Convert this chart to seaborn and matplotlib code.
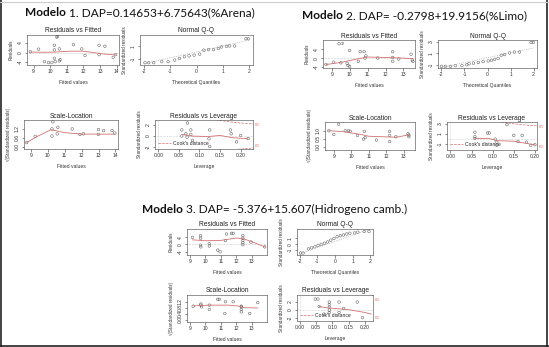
import matplotlib
matplotlib.use("Agg")
import matplotlib.pyplot as plt
import seaborn as sns
import numpy as np
from matplotlib.lines import Line2D

sns.set_style("white")
plt.rcParams['font.family'] = ['Liberation Sans', 'DejaVu Sans']

W, H = 549, 347

# ---------------- data ----------------
titles = ["Modelo", " 1. DAP=0.14653+6.75643(%Arena)",
          "Modelo", " 2. DAP= -0.2798+19.9156(%Limo)",
          "Modelo", " 3. DAP= -5.376+15.607(Hidrogeno camb.)"]

# Model 1
m1_rvf_x = [8.8, 9.3, 9.65, 9.9, 10.1, 10.3, 10.25, 10.25, 10.25, 10.4, 10.55, 10.55, 10.6, 11.4, 11.9, 12.1, 12.95, 12.95, 13.3, 13.8, 13.95]
m1_rvf_y = [0.3, 1.4, -3.8, -4.2, -4.2, -3.8, 3.0, 1.1, -2.4, 6.4, 1.5, -3.5, -3.0, 3.3, 1.5, -1.2, 3.0, -0.9, 2.6, -2.0, -0.9]
m1_rvf_sx = [8.8, 9.6, 10.3, 11.0, 11.9, 12.6, 13.2, 13.95]
m1_rvf_sy = [0.2, 0.1, 0.2, 0.5, 0.6, 0.0, -0.6, -1.0]

m1_qq_x = [-1.96, -1.82, -1.63, -1.32, -1.08, -0.83, -0.65, -0.46, -0.28, -0.09, 0.12, 0.28, 0.46, 0.65, 0.83, 0.95, 1.14, 1.26, 1.45, 1.88, 1.97]
m1_qq_y = [-1.63, -1.63, -1.63, -1.47, -1.47, -1.21, -0.95, -0.68, -0.53, -0.42, -0.26, 0.37, 0.47, 0.47, 0.63, 0.89, 1.0, 1.05, 1.05, 2.2, 2.2]
m1_qq_lx = [-2.0, 2.0]
m1_qq_ly = [-1.8, 2.0]

m1_sl_x = [8.76, 9.26, 10.25, 10.25, 10.3, 10.6, 10.56, 11.45, 11.9, 12.1, 12.99, 13.0, 13.3, 13.8, 13.96]
m1_sl_y = [0.28, 0.70, 1.2, 0.72, 1.68, 1.31, 0.87, 1.2, 0.83, 0.87, 0.83, 1.16, 1.09, 1.09, 0.92]
m1_sl_sx = [8.76, 9.3, 10.2, 11.0, 12.0, 13.0, 13.96]
m1_sl_sy = [0.28, 0.65, 1.15, 0.95, 0.85, 0.85, 0.85]

m1_rl_x = [0.057, 0.057, 0.071, 0.067, 0.07, 0.079, 0.079, 0.083, 0.125, 0.123, 0.125, 0.175, 0.177, 0.19, 0.2, 0.218]
m1_rl_y = [1.1, 0.0, 2.35, 0.4, -0.2, 1.1, 0.3, -0.8, 1.1, -0.5, -1.9, 1.1, 0.4, -1.06, 0.1, -0.47]
m1_rl_sx = [0.057, 0.08, 0.12, 0.15, 0.18, 0.218]
m1_rl_sy = [0.3, 0.0, -0.1, 0.1, -0.3, -0.5]
m1_cook_x = [0.14, 0.17, 0.2, 0.235]
m1_cook_top = [2.95, 2.6, 2.35, 2.15]
m1_cook_bot = [-2.95, -2.6, -2.35, -2.15]

# Model 2
m2_rvf_x = [8.67, 9.1, 9.4, 9.5, 9.85, 9.99, 9.9, 9.99, 10.48, 10.58, 10.8, 10.9, 10.85, 11.56, 12.4, 12.4, 12.4, 12.74, 13.43, 13.5, 13.53]
m2_rvf_y = [-2.96, -1.9, 6.7, -2.2, -2.4, 3.55, -3.4, -3.85, -1.5, 3.0, 3.0, 1.04, 0.0, 0.0, 3.0, 0.3, -1.5, -0.44, 1.78, -0.9, -1.5]
m2_rvf_sx = [8.67, 9.5, 10.5, 11.0, 12.0, 13.0, 13.53]
m2_rvf_sy = [-3.0, -2.0, -0.3, 0.5, 0.3, 0.0, -0.3]

m2_qq_x = [-2.0, -1.83, -1.61, -1.4, -1.11, -0.9, -0.8, -0.61, -0.4, -0.19, 0.03, 0.17, 0.31, 0.46, 0.6, 0.74, 0.96, 1.17, 1.39, 1.89, 1.99]
m2_qq_y = [-1.31, -1.31, -1.31, -1.19, -1.19, -1.03, -0.86, -0.75, -0.64, -0.47, -0.36, -0.25, -0.08, 0.08, 0.64, 0.75, 1.03, 1.19, 1.19, 2.86, 2.86]
m2_qq_lx = [-2.0, 2.0]
m2_qq_ly = [-1.5, 1.9]

m2_sl_x = [8.72, 9.0, 9.28, 9.66, 9.85, 9.94, 10.36, 10.7, 10.75, 10.8, 11.45, 12.2, 12.2, 12.2, 12.55, 13.25, 13.3, 13.3]
m2_sl_y = [1.0, 0.77, 1.4, 1.0, 1.0, 0.96, 0.71, 0.48, 0.96, 0.58, 0.42, 0.96, 0.71, 0.33, 0.63, 0.81, 0.63, 0.73]
m2_sl_sx = [8.72, 9.5, 10.5, 11.0, 12.0, 12.6, 13.3]
m2_sl_sy = [1.0, 0.95, 0.78, 0.66, 0.62, 0.6, 0.75]

m2_rl_x = [0.058, 0.058, 0.058, 0.088, 0.092, 0.106, 0.11, 0.11, 0.134, 0.15, 0.16, 0.17, 0.18, 0.19, 0.2]
m2_rl_y = [1.31, 0.48, 0.12, 1.19, 1.19, 0.0, -0.6, -1.2, 2.8, 0.72, -0.48, 0.72, -0.6, -1.2, -1.07]
m2_rl_sx = [0.058, 0.09, 0.11, 0.15, 0.2]
m2_rl_sy = [0.1, 0.15, -0.3, -0.4, -1.1]
m2_cook_x = [0.12, 0.15, 0.18, 0.215]
m2_cook_top = [3.3, 2.95, 2.7, 2.5]
m2_cook_bot = [-3.3, -2.95, -2.7, -2.5]

# Model 3
m3_rvf_x = [9.15, 9.68, 9.68, 9.68, 9.7, 10.25, 10.25, 10.8, 10.95, 11.3, 11.37, 11.69, 11.8, 12.43, 12.43, 12.43, 12.43, 12.43, 12.96, 13.85]
m3_rvf_y = [3.9, 4.8, 3.4, -0.5, -1.4, 0.36, -0.9, -3.2, -4.1, 2.1, 5.7, 6.1, 6.1, 4.8, 3.4, 2.1, 0.9, -0.2, 1.25, -1.4]
m3_rvf_sx = [9.15, 10.0, 11.0, 12.0, 12.5, 13.0, 13.85]
m3_rvf_sy = [2.5, 2.0, 2.2, 3.5, 3.0, 1.5, -1.4]

m3_qq_x = [-1.95, -1.8, -1.5, -1.32, -1.14, -0.96, -0.78, -0.6, -0.42, -0.24, -0.06, 0.12, 0.3, 0.48, 0.66, 0.84, 1.11, 1.29, 1.65, 1.92]
m3_qq_y = [-1.47, -1.47, -0.76, -0.59, -0.41, -0.18, 0.0, 0.18, 0.41, 0.71, 1.0, 1.29, 1.47, 1.59, 1.76, 1.88, 1.94, 2.06, 2.18, 2.18]
m3_qq_lx = [-2.0, 2.0]
m3_qq_ly = [-1.6, 2.6]

m3_sl_x = [9.2, 9.7, 9.7, 9.75, 10.25, 10.25, 10.8, 10.9, 11.26, 11.3, 11.8, 12.33, 12.33, 12.33, 12.33, 12.88, 13.4]
m3_sl_y = [0.9, 1.04, 0.97, 0.86, 0.97, 0.68, 1.36, 1.36, 0.41, 1.2, 1.2, 0.9, 0.68, 0.52, 0.86, 0.41, 1.14]
m3_sl_sx = [9.2, 10.3, 11.5, 12.2, 12.5, 13.4]
m3_sl_sy = [0.92, 0.97, 0.97, 0.9, 0.8, 0.78]

m3_rl_x = [0.048, 0.056, 0.06, 0.091, 0.091, 0.091, 0.091, 0.091, 0.074, 0.121, 0.121, 0.135, 0.177, 0.193]
m3_rl_y = [2.7, 2.7, 0.85, 1.96, 1.36, 0.68, 0.0, -0.6, -1.0, 1.96, -0.6, 0.4, 1.96, -1.87]
m3_rl_sx = [0.06, 0.09, 0.12, 0.15, 0.2, 0.22]
m3_rl_sy = [0.85, 0.5, 0.3, 0.1, -0.6, -1.0]
m3_cook_x = [0.2, 0.21, 0.225]
m3_cook_top = [4.2, 3.9, 3.6]
m3_cook_bot = [-4.2, -3.9, -3.6]

RED = "#d27070"
PT = "#555555"

fig = plt.figure(figsize=(W / 100, H / 100), dpi=100)
fig.patch.set_facecolor("white")


def px_axes(l, t, r, b):
    return fig.add_axes([l / W, 1 - b / H, (r - l) / W, (b - t) / H])


def style(ax, title, xlabel, ylabel, xlim, ylim, xticks, yticks, xtl=None, ytl=None):
    ax.set_facecolor("white")
    ax.set_xlim(*xlim)
    ax.set_ylim(*ylim)
    ax.set_xticks(xticks)
    ax.set_yticks(yticks)
    ax.set_xticklabels(xtl if xtl is not None else [str(v) for v in xticks], fontsize=3.6)
    ax.set_yticklabels(ytl if ytl is not None else [str(v) for v in yticks], fontsize=3.6,
                       rotation=90, va="center")
    ax.tick_params(axis="both", length=1.8, width=0.4, pad=1.2, direction="out",
                   colors="#333333", bottom=True, left=True)
    for s in ax.spines.values():
        s.set_linewidth(0.45)
        s.set_color("#555555")
    ax.set_title(title, fontsize=4.8, pad=1.8, color="#222222")
    ax.set_xlabel(xlabel, fontsize=3.6, labelpad=4, color="#333333")
    ax.set_ylabel(ylabel, fontsize=3.3, labelpad=3, color="#333333")


def points(ax, x, y):
    sns.scatterplot(x=x, y=y, ax=ax, s=3.5, marker="o", color=PT, linewidth=0.35, legend=False)
    coll = ax.collections[-1]
    coll.set_facecolor("none")
    coll.set_edgecolor(PT)


def smooth(ax, x, y):
    sns.lineplot(x=x, y=y, ax=ax, color=RED, lw=0.6, sort=False, estimator=None, legend=False)


def rvf(box, x, y, sx, sy, xlim, ylim, xticks, yticks, labels):
    ax = px_axes(*box)
    ax.axhline(0, color="#999999", lw=0.4, ls=":")
    smooth(ax, sx, sy)
    points(ax, x, y)
    for (lx, ly, t) in labels:
        ax.text(lx, ly, t, fontsize=2.6, color="#333333", ha="center", va="center")
    style(ax, "Residuals vs Fitted", "Fitted values", "Residuals", xlim, ylim, xticks, yticks)
    return ax


def qq(box, x, y, lx, ly, ylim, yticks, ytl=None):
    ax = px_axes(*box)
    sns.lineplot(x=lx, y=ly, ax=ax, color="#999999", lw=0.5, ls=":", legend=False)
    points(ax, x, y)
    style(ax, "Normal Q-Q", "Theoretical Quantiles", "Standardized residuals",
          (-2.15, 2.15), ylim, [-2, -1, 0, 1, 2], yticks, ytl=ytl)
    return ax


def sl(box, x, y, sx, sy, xlim, ylim, xticks, yticks):
    ax = px_axes(*box)
    smooth(ax, sx, sy)
    points(ax, x, y)
    style(ax, "Scale-Location", "Fitted values", "\u221a|Standardized residuals|",
          xlim, ylim, xticks, yticks, ytl=["%.1f" % v for v in yticks])
    return ax


def rl(box, x, y, sx, sy, cx, ct, cb, xlim, ylim, yticks):
    ax = px_axes(*box)
    ax.axhline(0, color="#aaaaaa", lw=0.4, ls=":")
    ax.axvline(0, color="#aaaaaa", lw=0.4, ls=":")
    sns.lineplot(x=cx, y=ct, ax=ax, color=RED, lw=0.5, ls="--", legend=False)
    sns.lineplot(x=cx, y=cb, ax=ax, color=RED, lw=0.5, ls="--", legend=False)
    smooth(ax, sx, sy)
    points(ax, x, y)
    style(ax, "Residuals vs Leverage", "Leverage", "Standardized residuals",
          xlim, ylim, [0.0, 0.05, 0.1, 0.15, 0.2], yticks,
          xtl=["0.00", "0.05", "0.10", "0.15", "0.20"])
    ax.text(1.02, 0.82, "0.5", transform=ax.transAxes, fontsize=2.8, color=RED, va="center")
    ax.text(1.02, 0.12, "0.5", transform=ax.transAxes, fontsize=2.8, color=RED, va="center")
    ax.legend(handles=[Line2D([], [], color=RED, ls="--", lw=0.5)], labels=["Cook's distance"],
              loc="lower left", fontsize=3.6, frameon=False, handlelength=2.5,
              borderaxespad=0.2, handletextpad=0.5)
    return ax


# ---------------- Model 1 ----------------
rvf((27, 35, 119, 65), m1_rvf_x, m1_rvf_y, m1_rvf_sx, m1_rvf_sy, (8.6, 14.15), (-5.2, 7.3),
    [9, 10, 11, 12, 13, 14], [-4, 0, 4], [(10.45, 6.4, "12")])
qq((140, 35, 253, 65), m1_qq_x, m1_qq_y, m1_qq_lx, m1_qq_ly, (-2.0, 2.8), [-1, 1])
sl((24, 120, 118, 149), m1_sl_x, m1_sl_y, m1_sl_sx, m1_sl_sy, (8.6, 14.15), (-0.15, 1.8),
   [9, 10, 11, 12, 13, 14], [0.0, 0.6, 1.2])
rl((155, 120, 253, 149), m1_rl_x, m1_rl_y, m1_rl_sx, m1_rl_sy, m1_cook_x, m1_cook_top, m1_cook_bot,
   (-0.008, 0.23), (-2.35, 2.9), [-2, 0, 2])

# ---------------- Model 2 ----------------
rvf((323, 40, 415, 68), m2_rvf_x, m2_rvf_y, m2_rvf_sx, m2_rvf_sy, (8.5, 13.65), (-4.6, 8.4),
    [9, 10, 11, 12, 13], [-4, 0, 4], [(9.6, 6.7, "12")])
qq((438, 40, 537, 68), m2_qq_x, m2_qq_y, m2_qq_lx, m2_qq_ly, (-1.6, 3.3), [-1, 1, 3])
sl((325, 122, 415, 150), m2_sl_x, m2_sl_y, m2_sl_sx, m2_sl_sy, (8.5, 13.65), (-0.19, 1.54),
   [9, 10, 11, 12, 13], [0.0, 0.5, 1.0])
rl((447, 122, 537, 150), m2_rl_x, m2_rl_y, m2_rl_sx, m2_rl_sy, m2_cook_x, m2_cook_top, m2_cook_bot,
   (-0.008, 0.205), (-2.1, 3.3), [-1, 1, 3])

# ---------------- Model 3 ----------------
rvf((187, 229, 267, 255), m3_rvf_x, m3_rvf_y, m3_rvf_sx, m3_rvf_sy, (8.8, 14.0), (-5.9, 8.5),
    [9, 10, 11, 12, 13], [-4, 0, 4], [])
qq((297, 229, 373, 255), m3_qq_x, m3_qq_y, m3_qq_lx, m3_qq_ly, (-1.8, 2.6), [-1, 0, 1],
   ytl=["-1", "0", "1"])
sl((187, 295, 267, 322), m3_sl_x, m3_sl_y, m3_sl_sx, m3_sl_sy, (8.8, 14.0), (-0.16, 1.65),
   [9, 10, 11, 12, 13], [0.0, 0.4, 0.8, 1.2])
rl((297, 295, 373, 321), m3_rl_x, m3_rl_y, m3_rl_sx, m3_rl_sy, m3_cook_x, m3_cook_top, m3_cook_bot,
   (-0.008, 0.225), (-2.7, 3.7), [-2, 0, 2])

# ---------------- main titles ----------------
fig.canvas.draw()
renderer = fig.canvas.get_renderer()
title_pos = [(25, 16), (302, 19), (142, 213)]
for i, (tx, ty) in enumerate(title_pos):
    t1 = fig.text(tx / W, 1 - ty / H, titles[2 * i], fontsize=8.6, fontweight="bold",
                  family=["Lato", "DejaVu Sans"], color="#111111", va="baseline")
    bb = t1.get_window_extent(renderer)
    fig.text(bb.x1 / W, 1 - ty / H, titles[2 * i + 1], fontsize=8.6,
             family=["Lato", "DejaVu Sans"], color="#111111", va="baseline")

# ---------------- slide frame ----------------
fig.add_artist(Line2D([1 / W, 1 / W], [0, 1], transform=fig.transFigure, color="#222222", lw=1.2))
fig.add_artist(Line2D([547 / W, 547 / W], [0, 1], transform=fig.transFigure, color="#222222", lw=1.2))
fig.add_artist(Line2D([0, 1], [1 - 345.5 / H, 1 - 345.5 / H], transform=fig.transFigure, color="#222222", lw=1.2))
fig.add_artist(Line2D([0, 1], [1 - 1.5 / H, 1 - 1.5 / H], transform=fig.transFigure, color="#cccccc", lw=0.8))

fig.savefig("out.png", dpi=100, facecolor="white")
